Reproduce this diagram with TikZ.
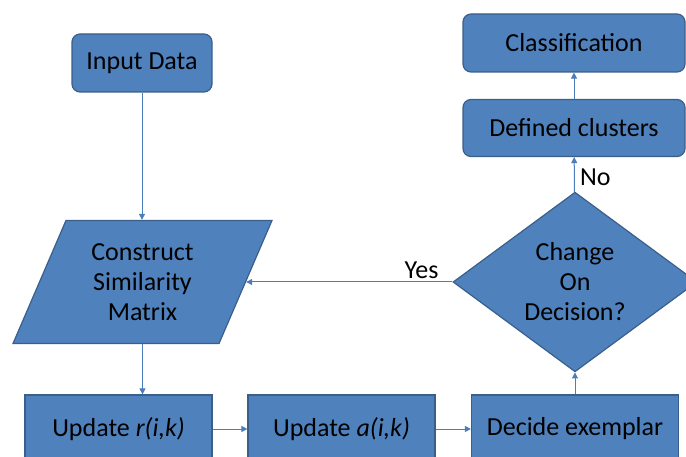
\documentclass[tikz,border=0pt]{standalone}
\usepackage{fontspec}
\setmainfont{Carlito}
\usetikzlibrary{positioning,arrows.meta,shapes.geometric}
\definecolor{boxfill}{HTML}{4F81BD}
\definecolor{boxline}{HTML}{3A5F8B}
\definecolor{flowline}{HTML}{4A7EBB}
\tikzset{
  base/.style   ={draw=boxline, fill=boxfill, line width=1.2pt, text=black,
                  font=\fontsize{26}{30}\selectfont, inner sep=0pt, align=center},
  procbox/.style={base, rectangle, minimum height=68pt},
  termbox/.style={base, rectangle, rounded corners=8pt, minimum height=58pt},
  % parallelogram for the data step
  databox/.style={base, trapezium, trapezium left angle=66.7,
                  trapezium right angle=113.3, trapezium stretches body,
                  inner ysep=23pt, minimum width=259pt, minimum height=121pt},
  choice/.style ={base, diamond, minimum width=244pt, minimum height=170pt},
  flow/.style   ={draw=flowline, line width=1pt,
                  -{Triangle[length=6pt,width=6pt]}},
  lbl/.style    ={font=\fontsize{26}{30}\selectfont, text=black},
}
\begin{document}
\begin{tikzpicture}[x=1pt,y=-1pt]
\useasboundingbox (0,0) rectangle (686,457);
\clip (0,0) rectangle (686,457);
\node[termbox, minimum width=140pt] (input) at (142,63) {Input Data};
\node[databox] (simmat) at (142.5,282) {Construct\\Similarity\\Matrix};
\node[termbox, minimum width=222pt] (classif) at (574,43) {Classification};
\node[termbox, minimum width=222pt, minimum height=57pt] (clusters) at (574,128) {Defined clusters};
\node[choice] (decision) at (575,282) {Change\\On\\Decision?};
\foreach \n/\x/\w/\t in {upr/118.5/187/{Update \textit{r(i,k)}},
                         upa/341.5/187/{Update \textit{a(i,k)}},
                         decide/575/207/{Decide exemplar}}
  {\node[procbox, minimum width=\w pt] (\n) at (\x,429) {\t};}
\draw[flow] (input.south) -- (input.south |- simmat.north);
\draw[flow] (simmat.south) -- (simmat.south |- upr.north);
\draw[flow] (upr) -- (upa);
\draw[flow] (upa) -- (decide);
\draw[flow] (decide) -- (decision);
\draw[flow] (decision.west) -- node[lbl, pos=0.15, above=-1pt] {Yes} (simmat.right side);
\draw[flow] (decision) -- node[lbl, right=2pt, yshift=-3pt] {No} (clusters);
\draw[flow] (clusters) -- (classif);
\end{tikzpicture}
\end{document}
